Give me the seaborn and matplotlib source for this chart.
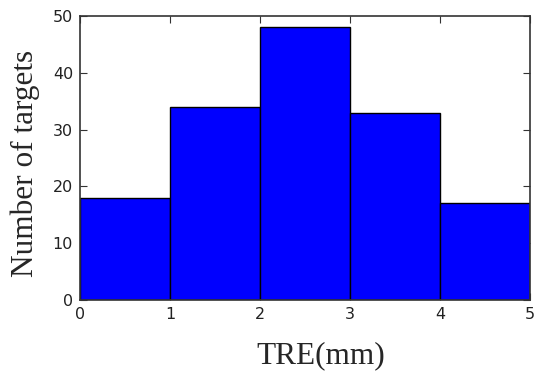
import matplotlib
matplotlib.use("Agg")
import matplotlib.pyplot as plt
import seaborn as sns
import numpy as np

bin_edges = [0, 1, 2, 3, 4, 5]
bin_centers = [0.5, 1.5, 2.5, 3.5, 4.5]
counts = [18, 34, 48, 33, 17]

sns.set_style("white")
plt.rcParams['font.family'] = ['DejaVu Sans']

fig = plt.figure(figsize=(5.34, 3.77), dpi=100)
ax = fig.add_axes([80/534, 1-300/377, 450/534, 284/377])

sns.histplot(x=bin_centers, weights=counts, bins=bin_edges, ax=ax,
             color="#0000ff", edgecolor="black", linewidth=1.0, alpha=1.0)

ax.set_xlim(0, 5)
ax.set_ylim(0, 50)
ax.set_xticks([0, 1, 2, 3, 4, 5])
ax.set_yticks([0, 10, 20, 30, 40, 50])
ax.tick_params(direction="in", length=5, width=0.8, labelsize=11.5, colors="#333333",
               labelcolor="#222222", top=True, right=True, bottom=True, left=True, pad=5)
for s in ax.spines.values():
    s.set_color("#333333")
    s.set_linewidth(1.2)
ax.set_xlabel("TRE(mm)", fontfamily="Liberation Serif", fontsize=22.5, labelpad=14)
ax.set_ylabel("Number of targets", fontfamily="Liberation Serif", fontsize=22.5, labelpad=9)
ax.xaxis.label.set_x(0.536)
ax.yaxis.label.set_y(0.48)

fig.savefig("out.png", dpi=100)
